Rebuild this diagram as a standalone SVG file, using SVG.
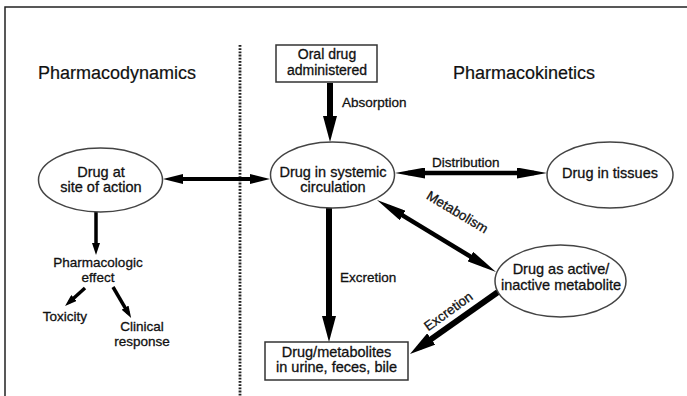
<svg xmlns="http://www.w3.org/2000/svg" width="687" height="396" viewBox="0 0 687 396">
<style>
text{font-family:"Liberation Sans",Arial,sans-serif;fill:#111;stroke:#111;stroke-width:0.3;}
.head{font-size:18px;stroke-width:0.2;}
.node{font-size:14.5px;text-anchor:middle;}
.lbl{font-size:13.5px;}
.ell{fill:#fff;stroke:#444;stroke-width:1.5;}
.box{fill:#fff;stroke:#333;stroke-width:1.5;}
.arr{stroke:#000;fill:none;}
</style>
<defs>
<marker id="big" viewBox="0 0 26 14" refX="14" refY="7" markerWidth="26" markerHeight="14" markerUnits="userSpaceOnUse" orient="auto-start-reverse"><path d="M0,0 L26,7 L0,14 z" fill="#000"/></marker>
<marker id="long" viewBox="0 0 30 11" refX="17" refY="5.5" markerWidth="30" markerHeight="11" markerUnits="userSpaceOnUse" orient="auto-start-reverse"><path d="M0,0 L30,5.5 L0,11 z" fill="#000"/></marker>
<marker id="mid" viewBox="0 0 20 10" refX="11" refY="5" markerWidth="20" markerHeight="10" markerUnits="userSpaceOnUse" orient="auto-start-reverse"><path d="M0,0 L20,5 L0,10 z" fill="#000"/></marker>
<marker id="sm" viewBox="0 0 12 8" refX="6" refY="4" markerWidth="12" markerHeight="8" markerUnits="userSpaceOnUse" orient="auto-start-reverse"><path d="M0,0 L12,4 L0,8 z" fill="#000"/></marker>
</defs>
<rect width="687" height="396" fill="#fff"/>
<path d="M5,396 V7 H687" fill="none" stroke="#222" stroke-width="1.5"/>
<line x1="240" y1="45" x2="240" y2="396" stroke="#222" stroke-width="2.8" stroke-dasharray="1.8,1.4"/>
<text class="head" x="38" y="79">Pharmacodynamics</text>
<text class="head" x="453" y="79">Pharmacokinetics</text>

<g id="connectors">
<line class="arr" x1="330" y1="83" x2="330" y2="130" stroke-width="6" marker-end="url(#big)"/>
<line class="arr" x1="172" y1="179" x2="261" y2="179" stroke-width="4" marker-start="url(#mid)" marker-end="url(#mid)"/>
<line class="arr" x1="408" y1="173" x2="534" y2="173" stroke-width="4.5" marker-start="url(#long)" marker-end="url(#long)"/>
<line class="arr" x1="388.1" y1="206.7" x2="484.9" y2="265.3" stroke-width="4.5" marker-start="url(#long)" marker-end="url(#long)"/>
<line class="arr" x1="329" y1="208" x2="329" y2="330" stroke-width="6" marker-end="url(#big)"/>
<line class="arr" x1="498" y1="292" x2="419.8" y2="347.1" stroke-width="6" marker-end="url(#big)"/>
<line class="arr" x1="96" y1="212" x2="96" y2="249" stroke-width="3.5" marker-end="url(#sm)"/>
<line class="arr" x1="85" y1="288" x2="69.5" y2="302" stroke-width="3.5" marker-end="url(#sm)"/>
<line class="arr" x1="113" y1="287" x2="128.1" y2="312.8" stroke-width="3.5" marker-end="url(#sm)"/>
<text class="lbl" x="342" y="107">Absorption</text>
<text class="lbl" x="432" y="167">Distribution</text>
<text class="lbl" x="455" y="216" text-anchor="middle" transform="rotate(31 455 216)">Metabolism</text>
<text class="lbl" x="340" y="282">Excretion</text>
<text class="lbl" x="451" y="315" text-anchor="middle" transform="rotate(-36 451 315)">Excretion</text>
</g>

<g id="oral">
<rect class="box" x="276" y="45" width="101" height="37"/>
<text class="node" x="327" y="59" style="font-size:14px">Oral drug</text>
<text class="node" x="327" y="75" style="font-size:14px">administered</text>
</g>
<g id="site">
<ellipse class="ell" cx="100.5" cy="180" rx="62" ry="32"/>
<text class="node" x="101" y="177">Drug at</text>
<text class="node" x="101" y="192">site of action</text>
</g>
<g id="systemic">
<ellipse class="ell" cx="332.5" cy="175" rx="62" ry="33"/>
<text class="node" x="333" y="177">Drug in systemic</text>
<text class="node" x="333" y="192">circulation</text>
</g>
<g id="tissues">
<ellipse class="ell" cx="610" cy="175" rx="63" ry="33"/>
<text class="node" x="610" y="178">Drug in tissues</text>
</g>
<g id="metabolite">
<ellipse class="ell" cx="560.5" cy="281" rx="65.5" ry="36"/>
<text class="node" x="561" y="274">Drug as active/</text>
<text class="node" x="561" y="290">inactive metabolite</text>
</g>
<g id="excreta">
<rect class="box" x="265" y="342" width="143" height="38"/>
<text class="node" x="336.5" y="357">Drug/metabolites</text>
<text class="node" x="336.5" y="372">in urine, feces, bile</text>
</g>
<g id="effect">
<text class="lbl" x="98" y="267" text-anchor="middle">Pharmacologic</text>
<text class="lbl" x="98" y="282" text-anchor="middle">effect</text>
</g>
<g id="toxicity">
<text class="lbl" x="65" y="321" text-anchor="middle">Toxicity</text>
</g>
<g id="clinical">
<text class="lbl" x="142" y="331" text-anchor="middle">Clinical</text>
<text class="lbl" x="142" y="346" text-anchor="middle">response</text>
</g>
</svg>
